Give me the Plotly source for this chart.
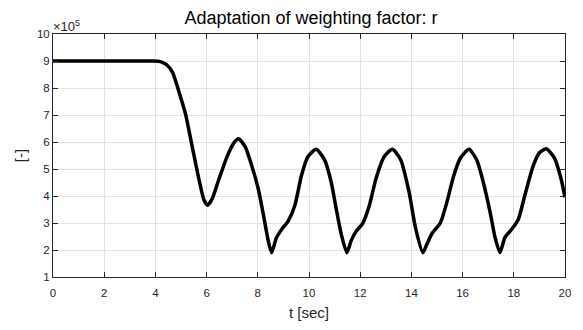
import plotly.graph_objects as go

# time [sec]
t_sec = [0.0, 1.0, 2.0, 3.0, 3.6, 3.9, 4.1, 4.25, 4.45, 4.67, 4.92, 5.18, 5.44, 5.70, 5.90, 6.04,
         6.22, 6.48, 6.80, 7.06, 7.25, 7.51, 7.77, 8.02, 8.22, 8.41, 8.54, 8.73, 8.93, 9.19,
         9.45, 9.70, 9.96, 10.28, 10.61, 10.87, 11.06, 11.26, 11.48, 11.64, 11.84, 12.10,
         12.36, 12.61, 12.94, 13.26, 13.58, 13.91, 14.16, 14.45, 14.62, 14.81, 15.13, 15.39,
         15.65, 15.91, 16.25, 16.55, 16.81, 17.07, 17.27, 17.46, 17.65, 17.91, 18.17,
         18.43, 18.75, 19.00, 19.27, 19.59, 19.85, 20.0]
# weighting factor r [-]
r_vals = [9.0e5, 9.0e5, 9.0e5, 9.0e5, 9.0e5, 9.0e5, 8.99e5, 8.96e5, 8.85e5, 8.58e5, 7.86e5,
          7.02e5, 5.82e5, 4.62e5, 3.84e5, 3.66e5, 3.90e5, 4.62e5, 5.46e5, 5.96e5, 6.12e5,
          5.82e5, 5.10e5, 4.26e5, 3.30e5, 2.33e5, 1.90e5, 2.46e5, 2.76e5, 3.08e5, 3.66e5,
          4.74e5, 5.46e5, 5.73e5, 5.34e5, 4.50e5, 3.54e5, 2.58e5, 1.90e5, 2.33e5, 2.69e5,
          2.99e5, 3.66e5, 4.62e5, 5.46e5, 5.73e5, 5.34e5, 4.14e5, 2.82e5, 1.90e5, 2.25e5,
          2.62e5, 3.00e5, 3.78e5, 4.74e5, 5.40e5, 5.73e5, 5.34e5, 4.50e5, 3.42e5, 2.46e5,
          1.90e5, 2.46e5, 2.76e5, 3.12e5, 4.02e5, 5.10e5, 5.60e5, 5.75e5, 5.40e5, 4.62e5,
          3.95e5]

x_ticks = [0, 2, 4, 6, 8, 10, 12, 14, 16, 18, 20]
y_ticks = [1e5, 2e5, 3e5, 4e5, 5e5, 6e5, 7e5, 8e5, 9e5, 10e5]
y_ticktext = ["1", "2", "3", "4", "5", "6", "7", "8", "9", "10"]

FONT = "Liberation Sans, Arial"

fig = go.Figure()
fig.add_trace(go.Scatter(x=t_sec, y=r_vals, mode="lines",
                         line=dict(color="black", width=3.5, shape="spline", smoothing=0.6),
                         showlegend=False))

axis_common = dict(showline=True, linecolor="#262626", linewidth=1, mirror="ticks",
                   ticks="inside", ticklen=5, tickcolor="#262626", tickwidth=1,
                   showgrid=True, gridcolor="#e3e3e3", gridwidth=1, zeroline=False,
                   tickfont=dict(family=FONT, size=11.5, color="#262626"))

fig.update_layout(
    width=583, height=330,
    margin=dict(l=53, r=14, t=34, b=47),
    paper_bgcolor="white", plot_bgcolor="white",
    title=dict(text="Adaptation of weighting factor: r", x=0.5335, xanchor="center",
               y=0.945, yanchor="middle",
               font=dict(family=FONT, size=18, color="black")),
    xaxis=dict(range=[0, 20], tickvals=x_ticks, ticklabelstandoff=5,
               title=dict(text="t [sec]", standoff=9,
                          font=dict(family=FONT, size=15, color="#262626")),
               **axis_common),
    yaxis=dict(range=[1e5, 10e5], tickvals=y_ticks, ticktext=y_ticktext,
               title=dict(text="[-]", standoff=6,
                          font=dict(family=FONT, size=15, color="#262626")),
               **axis_common),
)

fig.add_annotation(text="×10<sup>5</sup>", xref="paper", yref="paper", x=0.0, y=1.0,
                   xanchor="left", yanchor="bottom", showarrow=False, yshift=-2, xshift=-2,
                   font=dict(family=FONT, size=13, color="#262626"))

fig.write_html("out.html")
